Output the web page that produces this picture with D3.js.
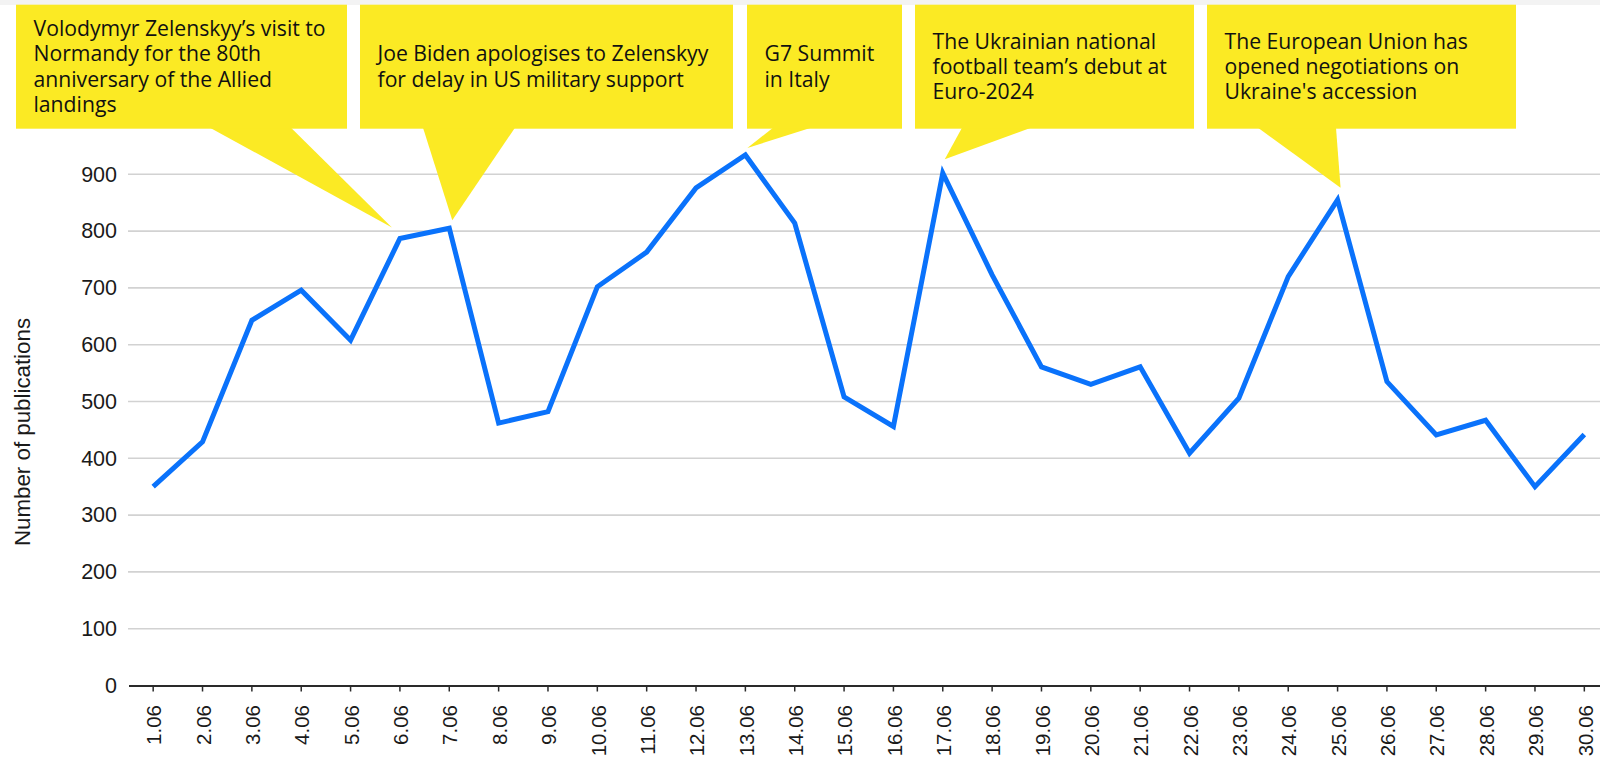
<!DOCTYPE html>
<html>
<head>
<meta charset="utf-8">
<script src="https://cdn.jsdelivr.net/npm/d3@7"></script>
<style>
  html, body { margin: 0; padding: 0; background: #ffffff; }
  svg { display: block; }
</style>
</head>
<body>
<svg id="chart" width="1600" height="758"></svg>
<script>
// ---- data ----
const dates = ["1.06","2.06","3.06","4.06","5.06","6.06","7.06","8.06","9.06","10.06",
  "11.06","12.06","13.06","14.06","15.06","16.06","17.06","18.06","19.06","20.06",
  "21.06","22.06","23.06","24.06","25.06","26.06","27.06","28.06","29.06","30.06"];
const publications = [350, 429, 643, 696, 608, 787, 805, 462, 482, 702,
  763, 876, 934, 814, 508, 456, 902, 723, 561, 530,
  561, 409, 506, 720, 855, 535, 441, 467, 350, 442];
const yTicks = [0, 100, 200, 300, 400, 500, 600, 700, 800, 900];
const yTitle = "Number of publications";

const annotationDates = ["6.06", "7.06", "13.06", "17.06", "25.06"];
const annotationTexts = [
  ["Volodymyr Zelenskyy’s visit to", "Normandy for the 80th", "anniversary of the Allied", "landings"],
  ["Joe Biden apologises to Zelenskyy", "for delay in US military support"],
  ["G7 Summit", "in Italy"],
  ["The Ukrainian national", "football team’s debut at", "Euro-2024"],
  ["The European Union has", "opened negotiations on", "Ukraine's accession"]
];

// ---- layout (not data) ----
const boxLayout = [
  { x0: 16,  x1: 347,  b0: 210,  b1: 291,  dx: -8, dy: -11 },
  { x0: 360, x1: 733,  b0: 423,  b1: 515,  dx: 3,  dy: -8 },
  { x0: 747, x1: 902,  b0: 773,  b1: 811,  dx: 2,  dy: -7 },
  { x0: 915, x1: 1194, b0: 962,  b1: 1031, dx: 2,  dy: -14 },
  { x0: 1207, x1: 1516, b0: 1258, b1: 1336, dx: 3, dy: -12 }
];
const boxTop = 4.7, boxBottom = 128.7;
const YELLOW = "#fbea24";
const BLUE = "#0a72fb";

const svg = d3.select("#chart");

// top light strip
svg.append("rect").attr("x", 0).attr("y", 0).attr("width", 1600).attr("height", 5).attr("fill", "#f3f3f3");

const x = d3.scaleBand().domain(dates).range([128.5, 1609]).padding(0);
const y = d3.scaleLinear().domain([0, 1000]).range([685.5, 117.5]);
const cx = d => x(d) + x.bandwidth() / 2;

// gridlines
svg.append("g").selectAll("line").data(yTicks.filter(t => t > 0)).join("line")
  .attr("x1", 128).attr("x2", 1600)
  .attr("y1", d => y(d)).attr("y2", d => y(d))
  .attr("stroke", "#d2d2d2").attr("stroke-width", 1.6);

// y axis labels
const yAxis = svg.append("g").attr("transform", "translate(128,0)")
  .call(d3.axisLeft(y).tickValues(yTicks).tickSize(0).tickPadding(11));
yAxis.select(".domain").remove();
yAxis.selectAll("text")
  .attr("font-family", "'Liberation Sans', Arial, sans-serif")
  .attr("font-size", 21.5).attr("fill", "#1a1a1a");

// y title
svg.append("text")
  .attr("transform", "translate(30,432) rotate(-90)")
  .attr("text-anchor", "middle")
  .attr("font-family", "'Liberation Sans', Arial, sans-serif")
  .attr("font-size", 22.3).attr("fill", "#1a1a1a")
  .text(yTitle);

// x axis
const xAxis = svg.append("g").attr("transform", `translate(0,${y(0)})`)
  .call(d3.axisBottom(x).tickSize(6).tickSizeOuter(0));
xAxis.select(".domain").attr("stroke", "#2a2a2a").attr("stroke-width", 2);
xAxis.selectAll(".tick line").attr("stroke", "#2a2a2a").attr("stroke-width", 1.5);
xAxis.selectAll("text")
  .attr("font-family", "'Liberation Sans', Arial, sans-serif")
  .attr("font-size", 20.5).attr("fill", "#1a1a1a")
  .attr("transform", "rotate(-90)")
  .attr("text-anchor", "end")
  .attr("x", -(705 - y(0)))
  .attr("y", 1)
  .attr("dy", "0.35em");

// line
const points = dates.map((d, i) => [cx(d), y(publications[i])]);
svg.append("path")
  .attr("d", d3.line()(points))
  .attr("fill", "none")
  .attr("stroke", BLUE)
  .attr("stroke-width", 5)
  .attr("stroke-linejoin", "miter");

// annotations
const ann = svg.append("g");
annotationDates.forEach((d, i) => {
  const L = boxLayout[i];
  const idx = dates.indexOf(d);
  const tx = cx(d) + L.dx, ty = y(publications[idx]) + L.dy;
  ann.append("path")
    .attr("d", `M${L.b0},${boxBottom - 1}L${L.b1},${boxBottom - 1}L${tx},${ty}Z`)
    .attr("fill", YELLOW);
  ann.append("rect")
    .attr("x", L.x0).attr("y", boxTop)
    .attr("width", L.x1 - L.x0).attr("height", boxBottom - boxTop)
    .attr("fill", YELLOW);
  const lines = annotationTexts[i];
  const lh = 25.3;
  const mid = (boxTop + boxBottom) / 2;
  const firstBaseline = mid - (lines.length - 1) * lh / 2 + 7.4;
  const t = ann.append("text")
    .attr("font-family", "'Open Sans', sans-serif")
    .attr("font-size", 21.2)
    .attr("fill", "#111");
  lines.forEach((s, j) => {
    t.append("tspan").attr("x", L.x0 + 17.5).attr("y", firstBaseline + j * lh).text(s);
  });
});
</script>
</body>
</html>
